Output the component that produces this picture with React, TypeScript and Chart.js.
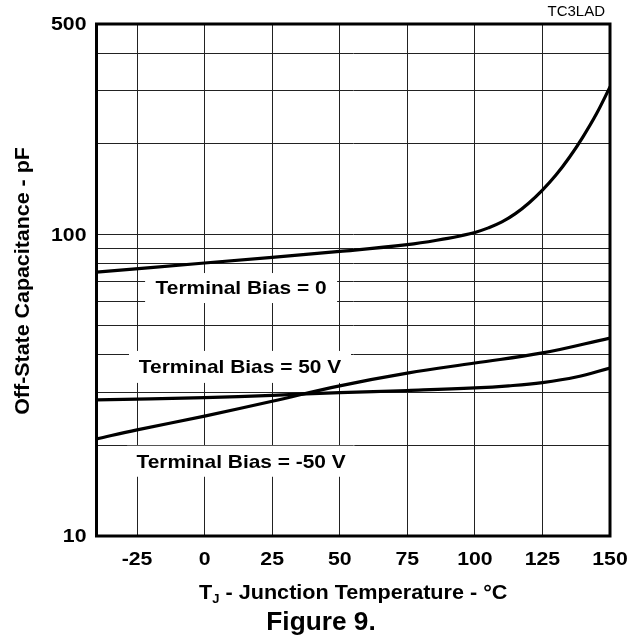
import React, { useEffect, useRef } from "react";
import { Chart, registerables } from "chart.js";

Chart.register(...registerables);

// ---- data ----
const tempsBias0 = [-40, 0, 50, 75, 90, 95, 100, 105, 110, 115, 120, 125, 130, 135, 140, 145, 150];
const capBias0 = [75.1, 80.5, 88.0, 92.6, 97.2, 99.2, 101.7, 105.3, 110.2, 117.4, 127.4, 140.5, 157.6, 180.6, 211.2, 251.8, 309];

const tempsBias50 = [-40, 0, 25, 50, 75, 100, 112.5, 125, 137.5, 150];
const capBias50 = [28.3, 28.8, 29.3, 29.9, 30.4, 31.0, 31.5, 32.3, 33.7, 36.1];

const tempsBiasNeg50 = [-40, -25, 0, 25, 50, 75, 100, 125, 150];
const capBiasNeg50 = [21.0, 22.5, 25.0, 28.0, 31.5, 34.7, 37.5, 40.5, 45.4];

const xTickValues = [-25, 0, 25, 50, 75, 100, 125, 150];
const yGridValues = [10, 20, 30, 40, 50, 60, 70, 80, 90, 100, 200, 300, 400, 500];
const yLabelValues = [10, 100, 500];

const seriesLabels = ["Terminal Bias = 0", "Terminal Bias = 50 V", "Terminal Bias = -50 V"];
// label anchors in data space (temperature, capacitance)
const labelTemps = [13.5, 13.1, 13.5];
const labelCaps = [66.5, 36.4, 17.7];

const FONT = '"Liberation Sans", Arial, Helvetica, sans-serif';

function drawStretched(
  ctx: CanvasRenderingContext2D,
  text: string,
  x: number,
  y: number,
  font: string,
  align: "left" | "center" | "right",
  sx: number
) {
  ctx.save();
  ctx.font = font;
  ctx.textBaseline = "middle";
  ctx.textAlign = "left";
  const w = ctx.measureText(text).width * sx;
  const left = align === "center" ? x - w / 2 : align === "right" ? x - w : x;
  ctx.translate(left, y);
  ctx.scale(sx, 1);
  ctx.fillStyle = "#000";
  ctx.fillText(text, 0, 0);
  ctx.restore();
}

const boxSizes = [
  [192, 30],
  [222, 32],
  [228, 31],
];

const decorPlugin = {
  id: "decor",
  beforeDatasetsDraw(chart: any) {
    const ctx: CanvasRenderingContext2D = chart.ctx;
    const xs = chart.scales.x;
    const ys = chart.scales.y;
    ctx.save();
    for (let i = 0; i < seriesLabels.length; i++) {
      const cx = xs.getPixelForValue(labelTemps[i]);
      const cy = ys.getPixelForValue(labelCaps[i]);
      const [bw, bh] = boxSizes[i];
      ctx.fillStyle = "#fff";
      ctx.fillRect(cx - bw / 2, cy - bh / 2, bw, bh);
      drawStretched(ctx, seriesLabels[i], cx, cy + 1, `bold 19px ${FONT}`, "center", 1.1);
    }
    ctx.restore();
  },
  afterDraw(chart: any) {
    const ctx: CanvasRenderingContext2D = chart.ctx;
    const a = chart.chartArea;
    const xs = chart.scales.x;
    const ys = chart.scales.y;
    ctx.save();
    // frame
    ctx.strokeStyle = "#000";
    ctx.lineWidth = 3;
    ctx.strokeRect(a.left, a.top, a.right - a.left, a.bottom - a.top);

    // y tick labels
    for (const v of yLabelValues) {
      drawStretched(ctx, String(v), a.left - 10, ys.getPixelForValue(v) + 1.5, `bold 18px ${FONT}`, "right", 1.18);
    }
    // x tick labels
    for (const v of xTickValues) {
      drawStretched(ctx, String(v), xs.getPixelForValue(v), a.bottom + 24, `bold 18px ${FONT}`, "center", 1.18);
    }

    // x axis title with subscript J
    const cx = (a.left + a.right) / 2;
    const ty = a.bottom + 57;
    const sx = 1.08;
    const bigFont = `bold 20px ${FONT}`;
    const smallFont = `bold 12px ${FONT}`;
    ctx.font = bigFont;
    const wT = ctx.measureText("T").width * sx;
    const rest = " - Junction Temperature - \u00B0C";
    const wRest = ctx.measureText(rest).width * sx;
    ctx.font = smallFont;
    const wJ = ctx.measureText("J").width * sx;
    const total = wT + wJ + wRest;
    let x0 = cx - total / 2;
    drawStretched(ctx, "T", x0, ty, bigFont, "left", sx);
    x0 += wT;
    drawStretched(ctx, "J", x0, ty + 7, smallFont, "left", sx);
    x0 += wJ;
    drawStretched(ctx, rest, x0, ty, bigFont, "left", sx);

    // y axis title
    ctx.save();
    ctx.translate(23.5, (a.top + a.bottom) / 2 + 1);
    ctx.rotate(-Math.PI / 2);
    drawStretched(ctx, "Off-State Capacitance - pF", 0, 0, `bold 20px ${FONT}`, "center", 1.07);
    ctx.restore();

    // figure caption
    drawStretched(ctx, "Figure 9.", chart.width / 2, 623, `bold 25px ${FONT}`, "center", 1.05);

    // code tag
    drawStretched(ctx, "TC3LAD", a.right - 5, 12, `15px ${FONT}`, "right", 1.0);
    ctx.restore();
  },
};

export default function App() {
  const ref = useRef<HTMLCanvasElement | null>(null);

  useEffect(() => {
    document.body.style.margin = "0";
    const canvas = ref.current;
    if (!canvas) return;
    const mk = (t: number[], c: number[]) => t.map((x, i) => ({ x, y: c[i] }));
    const lineStyle = {
      borderColor: "#000",
      borderWidth: 3.2,
      pointRadius: 0,
      fill: false,
      tension: 0.4,
      borderCapStyle: "round" as const,
      borderJoinStyle: "round" as const,
    };
    const chart = new Chart(canvas, {
      type: "line",
      data: {
        datasets: [
          { label: seriesLabels[0], data: mk(tempsBias0, capBias0), ...lineStyle },
          { label: seriesLabels[1], data: mk(tempsBias50, capBias50), ...lineStyle },
          { label: seriesLabels[2], data: mk(tempsBiasNeg50, capBiasNeg50), ...lineStyle },
        ],
      },
      options: {
        animation: false,
        responsive: false,
        devicePixelRatio: 1,
        layout: { padding: { left: 96.5, right: 32, top: 24, bottom: 104 } },
        plugins: { legend: { display: false }, tooltip: { enabled: false }, title: { display: false } },
        scales: {
          x: {
            type: "linear",
            min: -40,
            max: 150,
            afterBuildTicks: (s: any) => {
              s.ticks = xTickValues.map((v) => ({ value: v }));
            },
            afterFit: (s: any) => {
              s.height = 0;
            },
            ticks: { display: false, autoSkip: false },
            grid: { color: "#222", lineWidth: 1, drawTicks: false },
            border: { display: false },
          },
          y: {
            type: "logarithmic",
            min: 10,
            max: 500,
            afterBuildTicks: (s: any) => {
              s.ticks = yGridValues.map((v) => ({ value: v }));
            },
            afterFit: (s: any) => {
              s.width = 0;
            },
            ticks: { display: false, autoSkip: false },
            grid: { color: "#222", lineWidth: 1, drawTicks: false },
            border: { display: false },
          },
        },
      },
      plugins: [decorPlugin],
    });
    return () => chart.destroy();
  }, []);

  return (
    <div style={{ width: 642, height: 640, background: "#fff" }}>
      <canvas ref={ref} width={642} height={640} style={{ display: "block" }} />
    </div>
  );
}
